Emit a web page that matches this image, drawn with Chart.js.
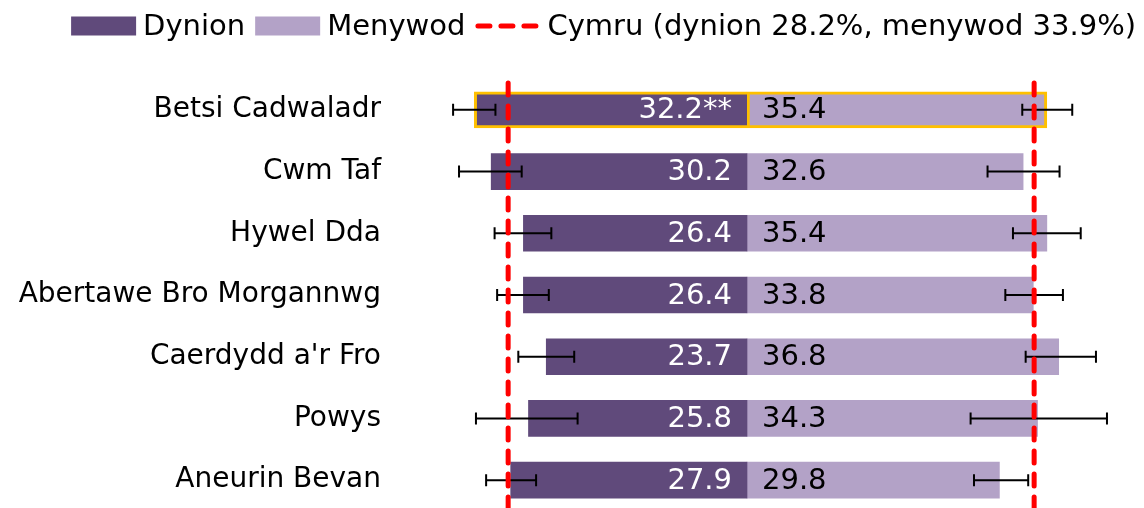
<!DOCTYPE html>
<html>
<head>
<meta charset="utf-8">
<script src="https://cdn.jsdelivr.net/npm/chart.js@4/dist/chart.umd.min.js"></script>
<style>
  html, body { margin: 0; padding: 0; background: #fff; }
  #wrap { width: 1144px; height: 508px; }
</style>
</head>
<body>
<div id="wrap"><canvas id="chart" width="1144" height="508"></canvas></div>
<script>
const regions = [
  "Betsi Cadwaladr",
  "Cwm Taf",
  "Hywel Dda",
  "Abertawe Bro Morgannwg",
  "Caerdydd a'r Fro",
  "Powys",
  "Aneurin Bevan",
];
const men = [32.2, 30.2, 26.4, 26.4, 23.7, 25.8, 27.9];
const women = [35.4, 32.6, 35.4, 33.8, 36.8, 34.3, 29.8];
const menSig = ["**", "", "", "", "", "", ""];
// confidence intervals
const menLow = [29.7, 26.6, 23.1, 23.4, 20.4, 20.0, 24.9];
const menHigh = [34.7, 34.0, 29.8, 29.5, 27.0, 32.0, 30.8];
const womenLow = [32.5, 28.4, 31.4, 30.5, 32.9, 26.4, 26.8];
const womenHigh = [38.4, 36.9, 39.4, 37.3, 41.2, 42.5, 33.2];
const walesMen = 28.2;
const walesWomen = 33.9;
const highlightIndex = 0;

const MEN_COLOR = "#604A7B";
const WOMEN_COLOR = "#B3A2C7";
const RED = "#FF0000";
const ORANGE = "#FFC000";
const FONT = "DejaVu Sans";
const RED_DASH = [12, 11];

// the last row sits a little below the canvas edge in the original
const stretchY = {
  id: "stretchY",
  afterLayout(chart) {
    const y = chart.scales.y;
    y.bottom = 511;
    y.configure();
  },
};

// value labels inside the bars
const valueLabels = {
  id: "valueLabels",
  afterDatasetsDraw(chart) {
    const { ctx } = chart;
    const x0 = chart.scales.x.getPixelForValue(0);
    ctx.save();
    ctx.font = `29px "${FONT}"`;
    ctx.textBaseline = "middle";
    chart.getDatasetMeta(0).data.forEach((bar, i) => {
      ctx.fillStyle = "#fff";
      ctx.textAlign = "right";
      ctx.fillText(men[i].toFixed(1) + menSig[i], x0 - 15, bar.y + 1);
    });
    chart.getDatasetMeta(1).data.forEach((bar, i) => {
      ctx.fillStyle = "#000";
      ctx.textAlign = "left";
      ctx.fillText(women[i].toFixed(1), x0 + 15, bar.y + 1);
    });
    ctx.restore();
  },
};

// error bars + Wales reference lines
const overlays = {
  id: "overlays",
  afterDatasetsDraw(chart) {
    const { ctx, chartArea } = chart;
    const xs = chart.scales.x;
    ctx.save();
    ctx.strokeStyle = "#000";
    ctx.lineWidth = 2;
    const drawBar = (lo, hi, y) => {
      const a = xs.getPixelForValue(lo);
      const b = xs.getPixelForValue(hi);
      ctx.beginPath();
      ctx.moveTo(a, y);
      ctx.lineTo(b, y);
      ctx.moveTo(a, y - 6);
      ctx.lineTo(a, y + 6);
      ctx.moveTo(b, y - 6);
      ctx.lineTo(b, y + 6);
      ctx.stroke();
    };
    chart.getDatasetMeta(0).data.forEach((bar, i) => drawBar(-menLow[i], -menHigh[i], bar.y));
    chart.getDatasetMeta(1).data.forEach((bar, i) => drawBar(womenLow[i], womenHigh[i], bar.y));

    ctx.strokeStyle = RED;
    ctx.lineWidth = 5;
    ctx.lineCap = "round";
    ctx.setLineDash(RED_DASH);
    [-walesMen, walesWomen].forEach((v) => {
      const x = xs.getPixelForValue(v);
      ctx.beginPath();
      ctx.moveTo(x, chartArea.top + 4);
      ctx.lineTo(x, chartArea.bottom + 10);
      ctx.stroke();
    });
    ctx.restore();
  },
};

// legend row drawn by hand so the gaps match the original
const legendRow = {
  id: "legendRow",
  afterDraw(chart) {
    const { ctx } = chart;
    const items = [
      { text: "Dynion", color: MEN_COLOR, kind: "box" },
      { text: "Menywod", color: WOMEN_COLOR, kind: "box" },
      { text: `Cymru (dynion ${walesMen}%, menywod ${walesWomen}%)`, color: RED, kind: "dash" },
    ];
    const boxW = 65, boxH = 19, gapText = 7, gapItem = 10, rightEdge = 1136, midY = 26;
    ctx.save();
    ctx.font = `29px "${FONT}"`;
    ctx.textBaseline = "middle";
    ctx.textAlign = "left";
    const widths = items.map((it) => ctx.measureText(it.text).width);
    const total = widths.reduce((s, w) => s + boxW + gapText + w, 0) + gapItem * (items.length - 1);
    let x = rightEdge - total;
    items.forEach((it, i) => {
      if (it.kind === "box") {
        ctx.fillStyle = it.color;
        ctx.fillRect(x, midY - boxH / 2, boxW, boxH);
      } else {
        ctx.save();
        ctx.strokeStyle = it.color;
        ctx.lineWidth = 5;
        ctx.lineCap = "round";
        ctx.setLineDash(RED_DASH);
        ctx.beginPath();
        ctx.moveTo(x + 2.5, midY);
        ctx.lineTo(x + boxW, midY);
        ctx.stroke();
        ctx.restore();
      }
      ctx.fillStyle = "#000";
      ctx.fillText(it.text, x + boxW + gapText, midY + 1);
      x += boxW + gapText + widths[i] + gapItem;
    });
    ctx.restore();
  },
};

const borderFor = (color) => (c) => (c.dataIndex === highlightIndex ? ORANGE : color);
const widthFor = (c) => (c.dataIndex === highlightIndex ? 3 : 0);

new Chart(document.getElementById("chart"), {
  type: "bar",
  data: {
    labels: regions,
    datasets: [
      {
        label: "Dynion",
        data: men.map((v) => -v),
        backgroundColor: MEN_COLOR,
        borderColor: borderFor(MEN_COLOR),
        borderWidth: widthFor,
        borderSkipped: "start",
      },
      {
        label: "Menywod",
        data: women,
        backgroundColor: WOMEN_COLOR,
        borderColor: borderFor(WOMEN_COLOR),
        borderWidth: widthFor,
        borderSkipped: (c) => (c.dataIndex === highlightIndex ? false : "start"),
      },
    ],
  },
  options: {
    indexAxis: "y",
    responsive: false,
    animation: false,
    devicePixelRatio: 1,
    layout: { autoPadding: false, padding: { top: 79, right: 8, left: 0, bottom: 0 } },
    datasets: { bar: { barThickness: 36 } },
    scales: {
      x: {
        display: false,
        stacked: true,
        min: -(747 - 401) / 8.47,
        max: (1136 - 747) / 8.47,
      },
      y: {
        stacked: true,
        grid: { display: false, drawTicks: false },
        border: { display: false },
        ticks: { color: "#000", padding: 20, font: { family: FONT, size: 28 } },
        afterFit(scale) {
          scale.width = 401;
          scale.paddingTop = 0;
          scale.paddingBottom = 0;
        },
      },
    },
    plugins: {
      tooltip: { enabled: false },
      legend: { display: false },
    },
  },
  plugins: [stretchY, valueLabels, overlays, legendRow],
});
</script>
</body>
</html>
